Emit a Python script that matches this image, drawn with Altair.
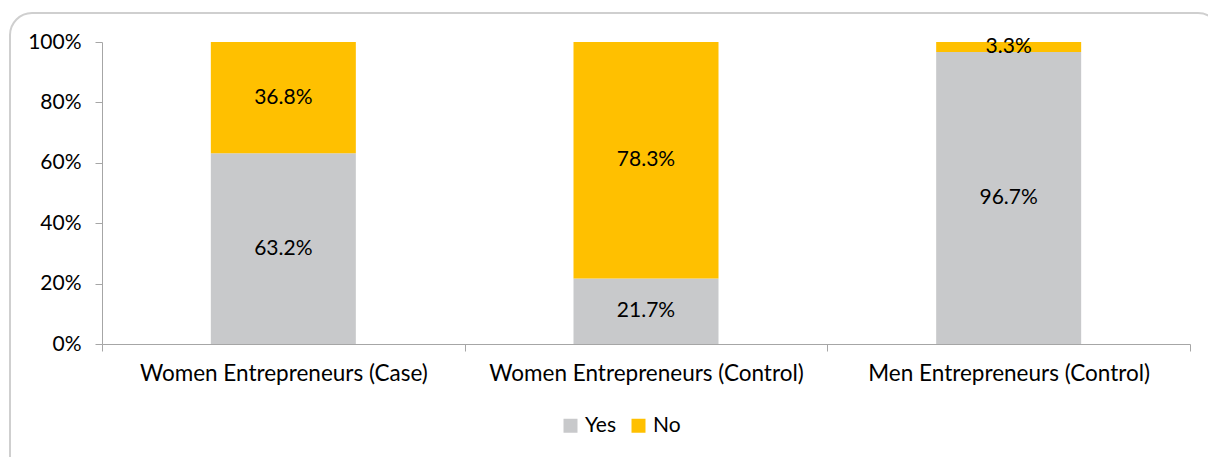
import altair as alt
import pandas as pd

categories = ["Women Entrepreneurs (Case)", "Women Entrepreneurs (Control)", "Men Entrepreneurs (Control)"]
yes_values = [63.2, 21.7, 96.7]
no_values = [36.8, 78.3, 3.3]
series = ["Yes", "No"]
colors = ["#C8C9CB", "#FFC000"]
y_ticks = [0, 20, 40, 60, 80, 100]

rows = []
for c, y, n in zip(categories, yes_values, no_values):
    rows.append({"cat": c, "series": "Yes", "val": y, "ord": 0})
    rows.append({"cat": c, "series": "No", "val": n, "ord": 1})
df = pd.DataFrame(rows)

FONT = "Lato"
FS = 21

x_enc = alt.X("cat:N", sort=categories, title=None,
              scale=alt.Scale(paddingInner=0, paddingOuter=0),
              axis=alt.Axis(labelAngle=0, tickBand="extent", domainColor="#A6A6A6",
                            tickColor="#A6A6A6", tickSize=7, labelPadding=11, labelLimit=400,
                            labelFontSize=22.5, labelFont=FONT, labelColor="#000000"))

base = alt.Chart(df)

bars = base.mark_bar(width=145).encode(
    x=x_enc,
    y=alt.Y("sum(val):Q", stack="zero", title=None,
            scale=alt.Scale(domain=[0, 100], nice=False),
            axis=alt.Axis(values=y_ticks, format="d", labelExpr="datum.value + '%'",
                          grid=False, domainColor="#A6A6A6", tickColor="#A6A6A6",
                          tickSize=7, labelPadding=14, labelFontSize=FS, labelFont=FONT,
                          labelColor="#000000")),
    color=alt.Color("series:N", scale=alt.Scale(domain=series, range=colors),
                    sort=series,
                    legend=alt.Legend(title=None, orient="none", direction="horizontal",
                                      legendX=458, legendY=373,
                                      symbolType="square", symbolSize=196,
                                      symbolStrokeWidth=0,
                                      labelFontSize=FS, labelFont=FONT, labelColor="#000000",
                                      columnPadding=12)),
    order=alt.Order("ord:Q"),
)

labels = base.transform_stack(
    stack="val", groupby=["cat"], as_=["v0", "v1"], sort=[alt.SortField("ord")]
).transform_calculate(
    mid="(datum.v0 + datum.v1) / 2",
    txt="format(datum.val, '.1f') + '%'"
).mark_text(font=FONT, fontSize=FS, color="#000000").encode(
    x=alt.X("cat:N", sort=categories),
    y=alt.Y("mid:Q"),
    text="txt:N",
)

border = alt.Chart(pd.DataFrame({"a": [0]})).mark_rect(
    fill=None, stroke="#CFCFCF", strokeWidth=2, cornerRadius=22, clip=False
).encode(
    x=alt.value(-92), x2=alt.value(1118), y=alt.value(-29), y2=alt.value(436)
)

chart = alt.layer(border, bars, labels).properties(
    width=1088, height=302,
    background="white",
    autosize=alt.AutoSizeParams(type="none"),
    padding={"left": 102, "top": 42, "right": 18, "bottom": 113},
).configure_view(stroke=None)

chart.save("out.html", embed_options={"renderer": "svg", "actions": False})
